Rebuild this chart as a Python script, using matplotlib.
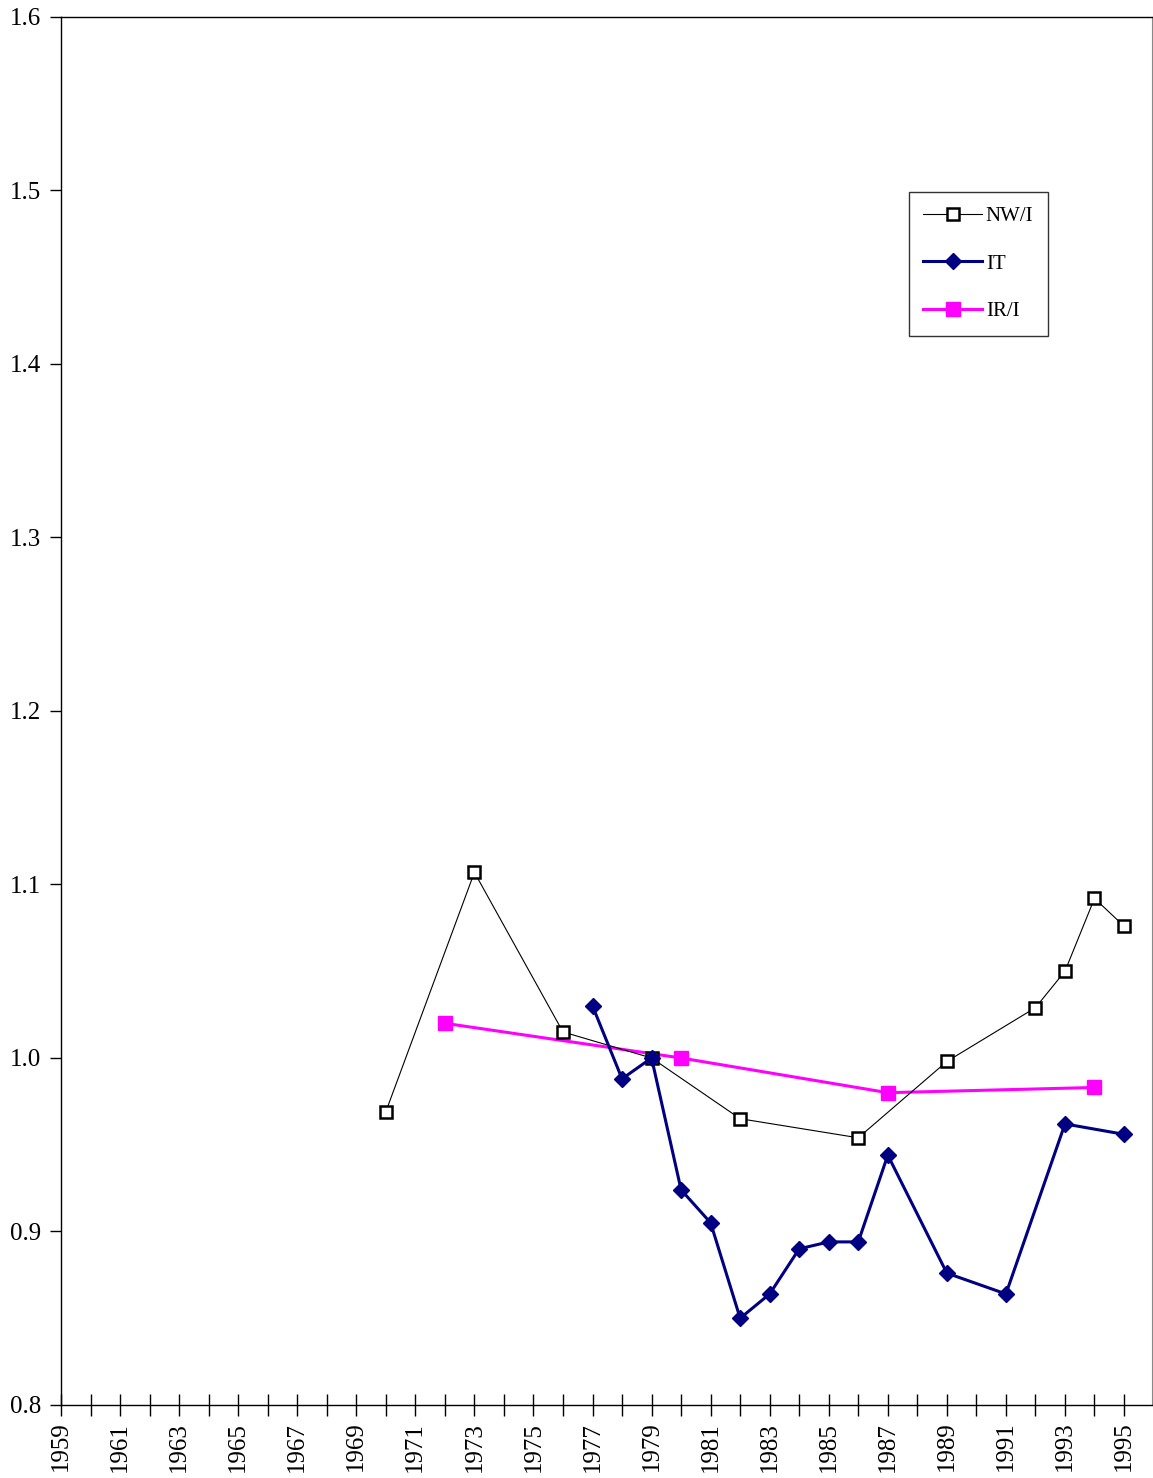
import numpy as np
import matplotlib.pyplot as plt

plt.rcParams['font.family'] = ['Liberation Serif', 'DejaVu Serif']

# datos
nw_years = [1970, 1973, 1976, 1979, 1982, 1986, 1989, 1992, 1993, 1994, 1995]
nw_vals = [0.969, 1.107, 1.015, 1.000, 0.965, 0.954, 0.998, 1.029, 1.050, 1.092, 1.076]

it_years = [1977, 1978, 1979, 1980, 1981, 1982, 1983, 1984, 1985, 1986, 1987, 1989, 1991, 1993, 1995]
it_vals = [1.030, 0.988, 1.000, 0.924, 0.905, 0.850, 0.864, 0.890, 0.894, 0.894, 0.944, 0.876, 0.864, 0.962, 0.956]

ir_years = [1972, 1980, 1987, 1994]
ir_vals = [1.020, 1.000, 0.980, 0.983]

year_ticks = list(range(1959, 1996))
year_labels = [str(y) if (y - 1959) % 2 == 0 else '' for y in year_ticks]
y_ticks = [0.8, 0.9, 1.0, 1.1, 1.2, 1.3, 1.4, 1.5, 1.6]

fig = plt.figure(figsize=(11.53, 14.78), dpi=100)
ax = fig.add_axes([0.0529, 0.0494, 0.9463, 0.9391])

ax.plot(nw_years, nw_vals, color='black', linewidth=0.8, marker='s', markersize=8,
        markerfacecolor='white', markeredgecolor='black', markeredgewidth=1.8, label='NW/I', zorder=3)
ax.plot(it_years, it_vals, color='#000080', linewidth=2.2, marker='D', markersize=8,
        markerfacecolor='#000080', markeredgecolor='#000080', label='IT', zorder=4)
ax.plot(ir_years, ir_vals, color='#FF00FF', linewidth=2.2, marker='s', markersize=10,
        markerfacecolor='#FF00FF', markeredgecolor='#FF00FF', label='IR/I', zorder=2)

ax.set_xlim(1959, 1995.95)
ax.set_ylim(0.8, 1.6)
ax.set_xticks(year_ticks)
ax.set_xticklabels(year_labels, rotation=90, fontsize=18)
ax.set_yticks(y_ticks)
ax.set_yticklabels([f'{v:.1f}' for v in y_ticks], fontsize=18)
ax.tick_params(axis='x', direction='inout', length=16, width=1, pad=4)
ax.tick_params(axis='y', direction='out', length=8, width=1, pad=6)

for s in ['left', 'bottom', 'top']:
    ax.spines[s].set_color('black')
    ax.spines[s].set_linewidth(1)
ax.spines['right'].set_color('#888888')

leg = ax.legend(loc='upper left', bbox_to_anchor=(0.777, 0.874), fontsize=15,
                frameon=True, fancybox=False, edgecolor='black', handlelength=2.8,
                handletextpad=0.2, labelspacing=1.35, borderpad=0.7, borderaxespad=0)
leg.get_frame().set_linewidth(1)

fig.savefig('out.png', dpi=100)
